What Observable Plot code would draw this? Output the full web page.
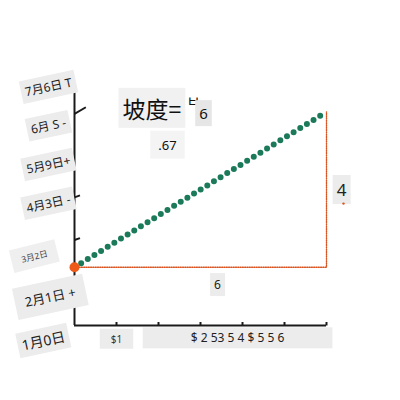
<!DOCTYPE html>
<html>
<head>
<meta charset="utf-8">
<script src="https://cdn.jsdelivr.net/npm/d3@7"></script>
<script src="https://cdn.jsdelivr.net/npm/@observablehq/plot@0.6"></script>
<style>
  html, body { margin: 0; padding: 0; background: #fff; }
  #chart svg { display: block; font-family: "Noto Sans", "Noto Sans CJK SC", sans-serif; }
</style>
</head>
<body>
<div id="chart"></div>
<script>
// ---- data ----
const yTicks = [0, 1, 2, 3, 4, 5, 6];
const yTickLabels = ["1月0日", "2月1日 +", "3月2日", "4月3日 -", "5月9日+", "6月 S -", "7月6日 T"];
const xTicks = [1, 2, 3, 4, 5, 6];
const xLabelGroups = [
  { from: 1, to: 1, text: "$1" },
  { from: 2, to: 6, text: "$ 2 53 5 4 $ 5 5 6" }
];
const yTickMarks = [2.2, 3.3, 5.45];
const slopeX = [0, 6];
const slopeY = [1.5, 5.5];
const rise = 4;
const run = 6;
const slopeText = ".67";
const titleText = "坡度=";
const fracTop = "ㅂ";
const fracBottom = "6";

const slopePts = slopeX.map((x, i) => ({ x, y: slopeY[i] }));
const guidePts = [
  { x: slopeX[0], y: slopeY[0] },
  { x: slopeX[1], y: slopeY[0] },
  { x: slopeX[1], y: slopeY[1] }
];
const ink = "#1a1a1a";
const red = "#d9531e";

const normalIdx = [3, 4, 5, 6];

const chart = Plot.plot({
  width: 400,
  height: 400,
  marginLeft: 74,
  marginRight: 74,
  marginTop: 92,
  marginBottom: 75,
  x: { domain: [0, 6], axis: null },
  y: { domain: [0, 6], axis: null },
  marks: [
    // axes
    Plot.ruleX([0], { y1: 0, y2: 6, stroke: ink, strokeWidth: 2 }),
    Plot.ruleY([0], { x1: 0, x2: 6, stroke: ink, strokeWidth: 2 }),
    Plot.link(xTicks, { x1: d => d, x2: d => d, y1: 0, y2: 0.09, stroke: ink, strokeWidth: 2 }),
    Plot.link(yTickMarks, { x1: 0, x2: (d, i) => i === 2 ? 0.27 : 0.13, y1: (d) => d, y2: (d, i) => i === 2 ? d + 0.17 : d + 0.05, stroke: ink, strokeWidth: 2 }),
    // y tick labels
    Plot.text(normalIdx, {
      frameAnchor: "left", y: i => yTicks[i], text: i => yTickLabels[i],
      dx: -26, dy: -5, rotate: -12, textAnchor: "middle", fontSize: 12, fill: "#222",
      ariaDescription: "boxed"
    }),
    Plot.text([1], {
      frameAnchor: "left", y: i => yTicks[i], text: i => yTickLabels[i],
      dx: -24, dy: 11, rotate: -12, textAnchor: "middle", fontSize: 13, fill: "#222",
      ariaDescription: "boxed-big"
    }),
    Plot.text([2], {
      frameAnchor: "left", y: i => yTicks[i], text: i => yTickLabels[i],
      dx: -40, dy: 9, rotate: -14, textAnchor: "middle", fontSize: 8.5, fill: "#444",
      ariaDescription: "boxed-small"
    }),
    Plot.text([0], {
      frameAnchor: "left", y: i => yTicks[i], text: i => yTickLabels[i],
      dx: -31, dy: 16, rotate: -12, textAnchor: "middle", fontSize: 14, fill: "#222",
      ariaDescription: "boxed"
    }),
    // x tick labels
    Plot.text(xLabelGroups.slice(0, 1), {
      x: d => (d.from + d.to) / 2, y: 0, text: "text", dy: 14, fontSize: 10, fill: "#333",
      ariaDescription: "boxed-x1"
    }),
    Plot.text(xLabelGroups.slice(1), {
      x: d => (d.from + d.to) / 2, y: 0, text: "text", dy: 13, dx: -5, fontSize: 12, fill: "#222",
      ariaDescription: "boxed-xwide"
    }),
    // rise / run guides
    Plot.line(guidePts, { x: "x", y: "y", stroke: red, strokeWidth: 1.4, strokeDasharray: "1,1.3" }),
    Plot.text([run], { x: (slopeX[0] + slopeX[1]) / 2, y: slopeY[0], text: d => String(d), dx: 17, dy: 18, fontSize: 12, fill: "#222", ariaDescription: "boxed" }),
    Plot.text([rise], { x: slopeX[1], y: (slopeY[0] + slopeY[1]) / 2, text: d => String(d), dx: 15, dy: 1, fontSize: 17, fill: "#222", ariaDescription: "boxed" }),
    Plot.dot([rise], { x: slopeX[1], y: (slopeY[0] + slopeY[1]) / 2, dx: 17, dy: 14, r: 1.2, fill: red }),
    // dotted slope line
    Plot.line(slopePts, { x: "x", y: "y", stroke: "#1b7a5a", strokeWidth: 6, strokeDasharray: "0 7.8", strokeLinecap: "round" }),
    Plot.dot(slopePts.slice(0, 1), { x: "x", y: "y", r: 5, fill: "#ee5a17" }),
    // title + slope annotations
    Plot.text([titleText], { frameAnchor: "top-left", text: d => d, dx: 48, dy: 9, textAnchor: "start", fontSize: 23, fontFamily: "Noto Sans CJK SC", fill: "#111", ariaDescription: "boxed-title" }),
    Plot.text([fracTop], { frameAnchor: "top-left", text: d => d, dx: 119, dy: 4, textAnchor: "middle", fontSize: 15, fontFamily: "Noto Sans CJK KR", fill: "#111" }),
    Plot.text([fracBottom], { frameAnchor: "top-left", text: d => d, dx: 129, dy: 16, textAnchor: "middle", fontSize: 15, fill: "#111", ariaDescription: "boxed-frac" }),
    Plot.text([slopeText], { frameAnchor: "top-left", text: d => d, dx: 93, dy: 48, textAnchor: "middle", fontSize: 13, fill: "#111", ariaDescription: "boxed-light" })
  ]
});

document.getElementById("chart").append(chart);

// gray backing boxes behind labels
const pads = {
  "boxed": [4, 3, "#ececec"],
  "boxed-big": [10, 7, "#ececec"],
  "boxed-small": [10, 6, "#efefef"],
  "boxed-x1": [11, 3, "#ececec"],
  "boxed-xwide": [48, 2, "#ececec"],
  "boxed-title": [4, 3, "#f1f1f1"],
  "boxed-frac": [4, 3, "#e6e6e6"],
  "boxed-light": [8, 5, "#f4f4f4"]
};
for (const [key, [px, py, fill]] of Object.entries(pads)) {
  chart.querySelectorAll(`g[aria-description="${key}"] text`).forEach(t => {
    const b = t.getBBox();
    const r = document.createElementNS("http://www.w3.org/2000/svg", "rect");
    r.setAttribute("x", b.x - px);
    r.setAttribute("y", b.y - py);
    r.setAttribute("width", b.width + 2 * px);
    r.setAttribute("height", b.height + 2 * py);
    r.setAttribute("fill", fill);
    const tr = t.getAttribute("transform");
    if (tr) r.setAttribute("transform", tr);
    t.parentNode.insertBefore(r, t);
  });
}
</script>
</body>
</html>
